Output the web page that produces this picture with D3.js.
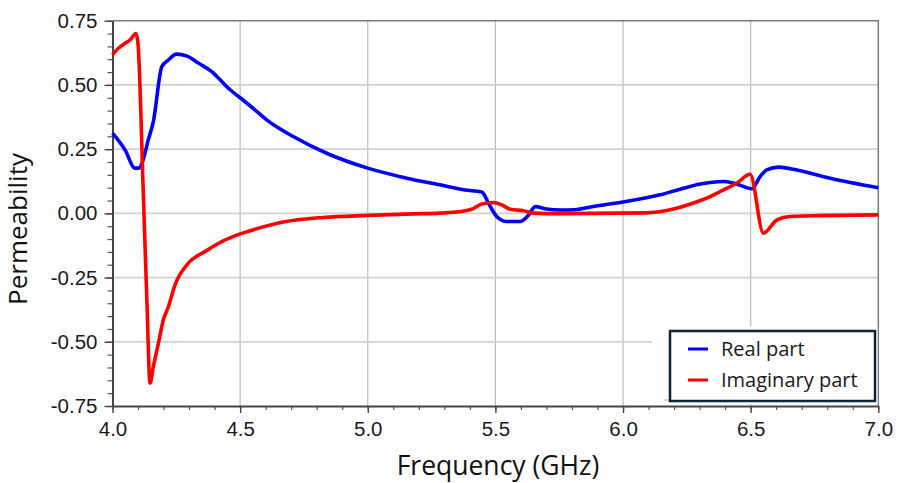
<!DOCTYPE html>
<html>
<head>
<meta charset="utf-8">
<script src="https://cdn.jsdelivr.net/npm/d3@7"></script>
<style>
  body { margin: 0; background: #fff; }
  svg { display: block; }
</style>
</head>
<body>
<div id="chart"></div>
<script>
// values
const realFreq = [4.000, 4.049, 4.088, 4.103, 4.120, 4.140, 4.160, 4.193, 4.219, 4.250, 4.290, 4.336, 4.389, 4.454, 4.500, 4.558, 4.604, 4.708, 4.839, 5.000, 5.153, 5.283, 5.381, 5.447, 5.473, 5.505, 5.545, 5.597, 5.629, 5.656, 5.701, 5.754, 5.810, 5.884, 6.000, 6.145, 6.224, 6.302, 6.393, 6.433, 6.505, 6.537, 6.563, 6.609, 6.655, 6.811, 7.000];
const realValues = [0.312, 0.247, 0.176, 0.176, 0.208, 0.286, 0.357, 0.571, 0.597, 0.620, 0.613, 0.585, 0.552, 0.487, 0.450, 0.403, 0.364, 0.299, 0.234, 0.176, 0.137, 0.111, 0.091, 0.083, 0.040, -0.012, -0.032, -0.032, -0.008, 0.026, 0.017, 0.013, 0.014, 0.027, 0.044, 0.072, 0.094, 0.114, 0.124, 0.118, 0.096, 0.143, 0.169, 0.180, 0.174, 0.137, 0.100];

const imagFreq = [4.000, 4.023, 4.049, 4.069, 4.092, 4.100, 4.120, 4.135, 4.147, 4.160, 4.180, 4.199, 4.219, 4.245, 4.297, 4.362, 4.428, 4.500, 4.558, 4.669, 4.826, 5.000, 5.179, 5.283, 5.362, 5.407, 5.447, 5.492, 5.525, 5.558, 5.610, 5.649, 5.754, 6.093, 6.185, 6.276, 6.341, 6.381, 6.446, 6.498, 6.550, 6.603, 6.655, 6.772, 7.000];
const imagValues = [0.617, 0.643, 0.662, 0.675, 0.700, 0.660, 0.100, -0.350, -0.661, -0.596, -0.505, -0.415, -0.363, -0.278, -0.194, -0.149, -0.110, -0.080, -0.062, -0.034, -0.016, -0.008, -0.002, 0.001, 0.007, 0.016, 0.036, 0.042, 0.033, 0.016, 0.010, 0.001, -0.001, 0.002, 0.014, 0.040, 0.065, 0.085, 0.118, 0.152, -0.077, -0.025, -0.012, -0.009, -0.006];

const xTicks = [4.0, 4.5, 5.0, 5.5, 6.0, 6.5, 7.0];
const yTicks = [-0.75, -0.50, -0.25, 0.00, 0.25, 0.50, 0.75];

const seriesNames = ['Real part', 'Imaginary part'];
const seriesColors = ['#0000ff', '#ff0000'];

const width = 910, height = 483;
const margin = {top: 20.7, right: 31.7, bottom: 77, left: 112.5};

const svg = d3.select('#chart').append('svg')
    .attr('width', width)
    .attr('height', height);

const x = d3.scaleLinear().domain([4, 7]).range([margin.left, width - margin.right]);
const y = d3.scaleLinear().domain([-0.75, 0.75]).range([height - margin.bottom, margin.top]);

// plain hyphen for negatives, like the original
const fmt = p => d => d3.format(p)(d).replace('\u2212', '-');

// grid
svg.append('g')
    .selectAll('line')
    .data(xTicks.slice(1, -1))
    .join('line')
    .attr('x1', d => x(d)).attr('x2', d => x(d))
    .attr('y1', y(0.75)).attr('y2', y(-0.75))
    .attr('stroke', '#bdbdbd')
    .attr('stroke-width', 1.2);

svg.append('g')
    .selectAll('line')
    .data(yTicks.slice(1, -1))
    .join('line')
    .attr('x1', x(4)).attr('x2', x(7))
    .attr('y1', d => y(d)).attr('y2', d => y(d))
    .attr('stroke', '#d2d2d2')
    .attr('stroke-width', 1.8);

// frame top / right
svg.append('path')
    .attr('d', `M${x(4)},${y(0.75)}H${x(7)}V${y(-0.75)}`)
    .attr('fill', 'none')
    .attr('stroke', '#7a7a7a')
    .attr('stroke-width', 1.5);

// minor ticks
const minorX = d3.range(40, 71).map(d => d / 10);
const minorY = d3.range(-15, 16).map(d => d / 20);

svg.append('g')
    .attr('transform', `translate(0,${y(-0.75)})`)
    .call(d3.axisBottom(x).tickValues(minorX).tickSize(4).tickFormat(''))
    .call(g => g.select('.domain').remove())
    .call(g => g.selectAll('line').attr('stroke', '#555').attr('stroke-width', 1.2));

svg.append('g')
    .attr('transform', `translate(${x(4)},0)`)
    .call(d3.axisLeft(y).tickValues(minorY).tickSize(5).tickFormat(''))
    .call(g => g.select('.domain').remove())
    .call(g => g.selectAll('line').attr('stroke', '#555').attr('stroke-width', 1.2));

// major axes
svg.append('g')
    .attr('transform', `translate(0,${y(-0.75)})`)
    .call(d3.axisBottom(x).tickValues(xTicks).tickSize(7).tickSizeOuter(0).tickPadding(8).tickFormat(fmt('.1f')))
    .call(g => g.select('.domain').attr('stroke', '#444').attr('stroke-width', 2))
    .call(g => g.selectAll('line').attr('stroke', '#444').attr('stroke-width', 1.4))
    .call(g => g.selectAll('text')
        .attr('font-family', 'Liberation Sans, Arial, sans-serif')
        .attr('font-size', 20.5)
        .attr('fill', '#1a1a1a'));

svg.append('g')
    .attr('transform', `translate(${x(4)},0)`)
    .call(d3.axisLeft(y).tickValues(yTicks).tickSize(8).tickSizeOuter(0).tickPadding(7).tickFormat(fmt('.2f')))
    .call(g => g.select('.domain').attr('stroke', '#444').attr('stroke-width', 2))
    .call(g => g.selectAll('line').attr('stroke', '#444').attr('stroke-width', 1.4))
    .call(g => g.selectAll('text')
        .attr('font-family', 'Liberation Sans, Arial, sans-serif')
        .attr('font-size', 20.5)
        .attr('fill', '#1a1a1a'));

// lines
const line = d3.line()
    .curve(d3.curveMonotoneX)
    .x(d => x(d[0]))
    .y(d => y(d[1]));

const realData = realFreq.map((f, i) => [f, realValues[i]]);
const imagData = imagFreq.map((f, i) => [f, imagValues[i]]);

svg.append('path')
    .datum(realData)
    .attr('fill', 'none')
    .attr('stroke', seriesColors[0])
    .attr('stroke-width', 3.6)
    .attr('stroke-linejoin', 'round')
    .attr('d', line);

svg.append('path')
    .datum(imagData)
    .attr('fill', 'none')
    .attr('stroke', seriesColors[1])
    .attr('stroke-width', 3.6)
    .attr('stroke-linejoin', 'round')
    .attr('d', line);

// legend (sits on a white patch over the plot)
svg.append('rect')
    .attr('x', 652).attr('y', 326)
    .attr('width', x(7) - 653).attr('height', y(-0.75) - 327.5)
    .attr('fill', '#fff');

svg.append('line')
    .attr('x1', 664).attr('x2', 872)
    .attr('y1', 400).attr('y2', 400)
    .attr('stroke', '#c8c8c8')
    .attr('stroke-width', 1.5);

const legend = svg.append('g').attr('transform', 'translate(670,331)');

legend.append('rect')
    .attr('width', 205)
    .attr('height', 70)
    .attr('fill', '#fff')
    .attr('stroke', '#0e2433')
    .attr('stroke-width', 2.5);

seriesNames.forEach((name, i) => {
    const row = legend.append('g').attr('transform', `translate(0,${18 + i * 31})`);
    row.append('line')
        .attr('x1', 18).attr('x2', 38)
        .attr('stroke', seriesColors[i])
        .attr('stroke-width', 3);
    row.append('text')
        .attr('x', 51)
        .attr('dy', '0.35em')
        .attr('font-family', 'Open Sans, Noto Sans, sans-serif')
        .attr('font-size', 20)
        .attr('fill', '#1a1a1a')
        .text(name);
});

// titles
svg.append('text')
    .attr('x', 498)
    .attr('y', 475)
    .attr('text-anchor', 'middle')
    .attr('font-family', 'Open Sans, Noto Sans, sans-serif')
    .attr('font-size', 26.5)
    .attr('fill', '#111')
    .text('Frequency (GHz)');

svg.append('text')
    .attr('transform', 'translate(27,229) rotate(-90)')
    .attr('text-anchor', 'middle')
    .attr('font-family', 'Open Sans, Noto Sans, sans-serif')
    .attr('font-size', 26)
    .attr('fill', '#111')
    .text('Permeability');
</script>
</body>
</html>
